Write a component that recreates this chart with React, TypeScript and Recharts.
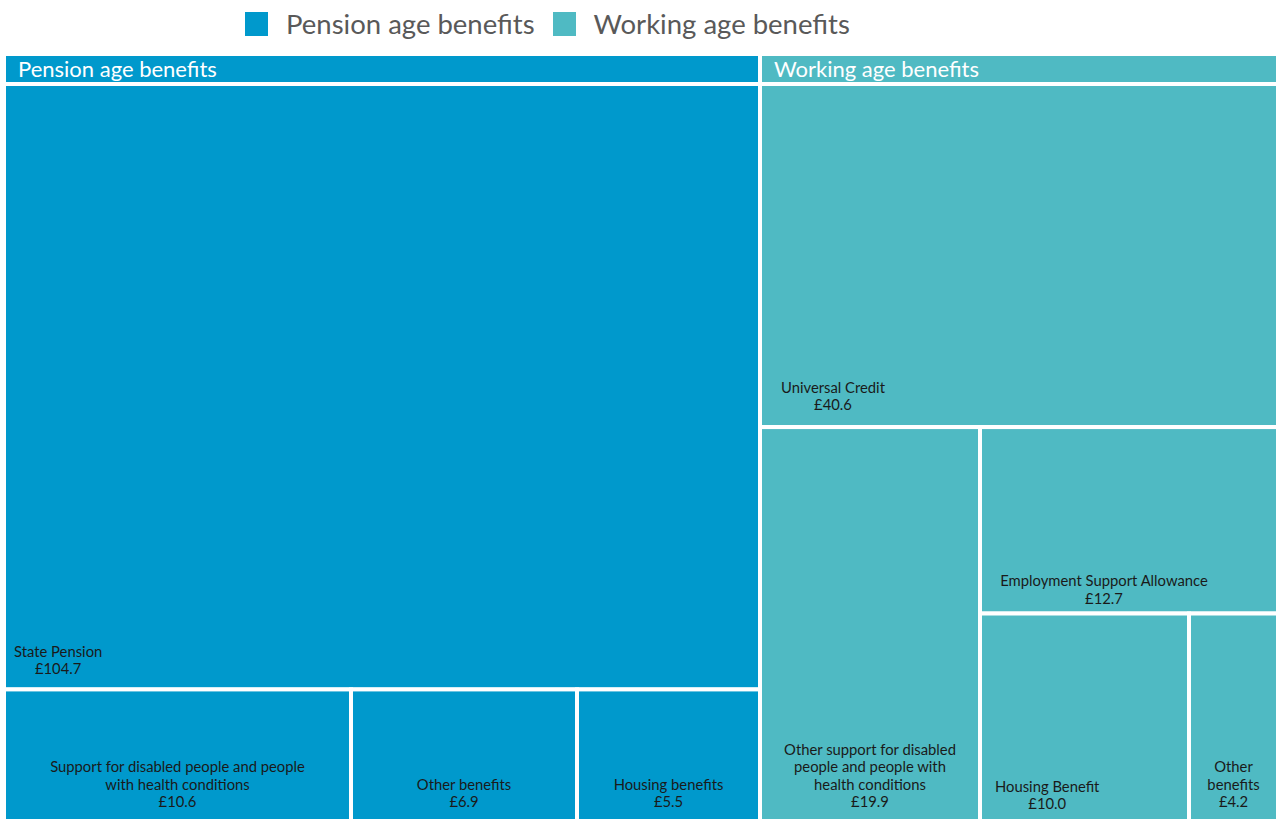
import React from 'react';
import { Treemap } from 'recharts';

// ---- data ----
const groupNames = ['Pension age benefits', 'Working age benefits'];
const pensionNames = [
  'State Pension',
  'Support for disabled people and people\nwith health conditions',
  'Other benefits',
  'Housing benefits',
];
const pensionValues = [104.7, 10.6, 6.9, 5.5];
const workingNames = [
  'Universal Credit',
  'Other support for disabled\npeople and people with\nhealth conditions',
  'Employment Support Allowance',
  'Housing Benefit',
  'Other\nbenefits',
];
const workingValues = [40.6, 19.9, 12.7, 10.0, 4.2];

// ---- styles ----
const groupColors = ['#0099CC', '#4FBAC3'];
const FONT = 'Lato, "Noto Sans", sans-serif';
const HEADER = 30;
const LINE_H = 17.5;
const LEAF_FS = 14.8;
// label placement style per leaf (align within cell, left padding, gap to bottom)
const labelStyle: Record<string, { align: 'left' | 'center'; pad: number; bottom: number }> = {
  'State Pension': { align: 'left', pad: 8, bottom: 18 },
  'Universal Credit': { align: 'left', pad: 19, bottom: 20 },
  'Employment Support Allowance': { align: 'left', pad: 18, bottom: 13 },
  'Housing Benefit': { align: 'left', pad: 13, bottom: 17 },
};

const data = [
  { name: groupNames[0], children: pensionNames.map((n, i) => ({ name: n, value: pensionValues[i] })) },
  { name: groupNames[1], children: workingNames.map((n, i) => ({ name: n, value: workingValues[i] })) },
];

let ctx: CanvasRenderingContext2D | null = null;
function measure(text: string, size: number) {
  if (!ctx) ctx = document.createElement('canvas').getContext('2d');
  if (!ctx) return text.length * size * 0.5;
  ctx.font = `${size}px Lato`;
  return ctx.measureText(text).width;
}

function findGroup(root: any, node: any) {
  if (!root) return null;
  if (root.depth === 1) return root;
  const kids = root.children || [];
  for (const c of kids) {
    if (node.x >= c.x - 0.5 && node.x < c.x + c.width - 0.5 && node.y >= c.y - 0.5 && node.y < c.y + c.height - 0.5) {
      return c;
    }
  }
  return null;
}

const CellContent = (props: any) => {
  const { depth, x, y, width, height, name, value, root } = props;
  if (!depth) return <g />;
  if (depth === 1) {
    const gi = groupNames.indexOf(name);
    return (
      <g>
        <rect x={x} y={y} width={width} height={height} fill={groupColors[gi]} stroke="#fff" strokeWidth={4} />
        <text x={x + 14} y={y + 23} fill="#fff" stroke="none" fontSize={22} fontFamily={FONT}>
          {name}
        </text>
      </g>
    );
  }
  const parent = findGroup(root, props);
  let ny = y;
  let nh = height;
  let gi = 0;
  if (parent) {
    const k = (parent.height - HEADER) / parent.height;
    ny = parent.y + HEADER + (y - parent.y) * k;
    nh = height * k;
    gi = groupNames.indexOf(parent.name);
  }
  const lines = String(name).split('\n');
  lines.push(`£${Number(value).toFixed(1)}`);
  const st = labelStyle[name] || { align: 'center', pad: 0, bottom: 19 };
  const widest = Math.max(...lines.map((l) => measure(l, LEAF_FS)));
  const cx = st.align === 'left' ? x + 2 + st.pad + widest / 2 : x + width / 2;
  const lastY = ny + nh - 2 - st.bottom + 5;
  const firstY = lastY - (lines.length - 1) * LINE_H;
  return (
    <g>
      <rect x={x} y={ny} width={width} height={nh} fill={groupColors[gi < 0 ? 0 : gi]} stroke="#fff" strokeWidth={4} />
      <text textAnchor="middle" fill="#1a1a1a" stroke="none" fontSize={LEAF_FS} fontFamily={FONT}>
        {lines.map((l, i) => (
          <tspan key={i} x={cx} y={firstY + i * LINE_H}>
            {l}
          </tspan>
        ))}
      </text>
    </g>
  );
};

const LegendItem = ({ color, label }: { color: string; label: string }) => (
  <div style={{ display: 'flex', alignItems: 'center', marginRight: 18 }}>
    <div style={{ width: 23, height: 24, background: color, marginRight: 18 }} />
    <span style={{ fontFamily: FONT, fontSize: 27.5, color: '#595959', lineHeight: '30px' }}>{label}</span>
  </div>
);

export default function App() {
  return (
    <div
      style={{
        position: 'absolute',
        left: 0,
        top: 0,
        width: 1276,
        height: 819,
        overflow: 'hidden',
        background: '#fff',
      }}
    >
      <div style={{ position: 'absolute', left: 245, top: 9, display: 'flex' }}>
        {groupNames.map((g, i) => (
          <LegendItem key={g} color={groupColors[i]} label={g} />
        ))}
      </div>
      <div style={{ position: 'absolute', left: 4, top: 54 }}>
        <Treemap
          width={1274}
          height={769}
          data={data}
          dataKey="value"
          nameKey="name"
          aspectRatio={1}
          stroke="#fff"
          isAnimationActive={false}
          content={<CellContent />}
        />
      </div>
    </div>
  );
}
